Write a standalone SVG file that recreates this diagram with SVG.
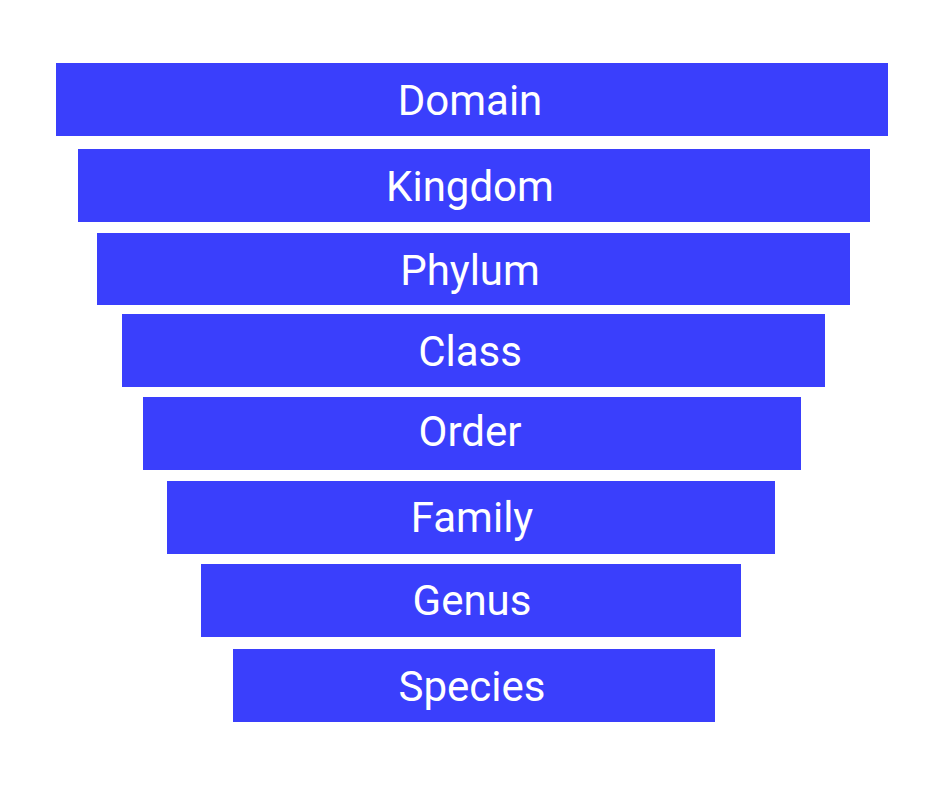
<svg xmlns="http://www.w3.org/2000/svg" width="940" height="788" viewBox="0 0 940 788">
<style>
rect{fill:#3a3ffc}
text{fill:#fff;font-family:Roboto,"Liberation Sans",sans-serif;font-size:42px;text-anchor:middle;dominant-baseline:central}
</style>
<rect x="0" y="0" width="940" height="788" style="fill:#fff"/>
<g id="domain"><rect x="56" y="63" width="832" height="73"/><text x="470" y="100">Domain</text></g>
<g id="kingdom"><rect x="78" y="149" width="792" height="73"/><text x="470" y="186">Kingdom</text></g>
<g id="phylum"><rect x="97" y="233" width="753" height="72"/><text x="470" y="270">Phylum</text></g>
<g id="class"><rect x="122" y="314" width="703" height="73"/><text x="470" y="351">Class</text></g>
<g id="order"><rect x="143" y="397" width="658" height="73"/><text x="470" y="431">Order</text></g>
<g id="family"><rect x="167" y="481" width="608" height="73"/><text x="472" y="517">Family</text></g>
<g id="genus"><rect x="201" y="564" width="540" height="73"/><text x="472" y="600">Genus</text></g>
<g id="species"><rect x="233" y="649" width="482" height="73"/><text x="472" y="686">Species</text></g>
<g id="connectors"/>
</svg>
